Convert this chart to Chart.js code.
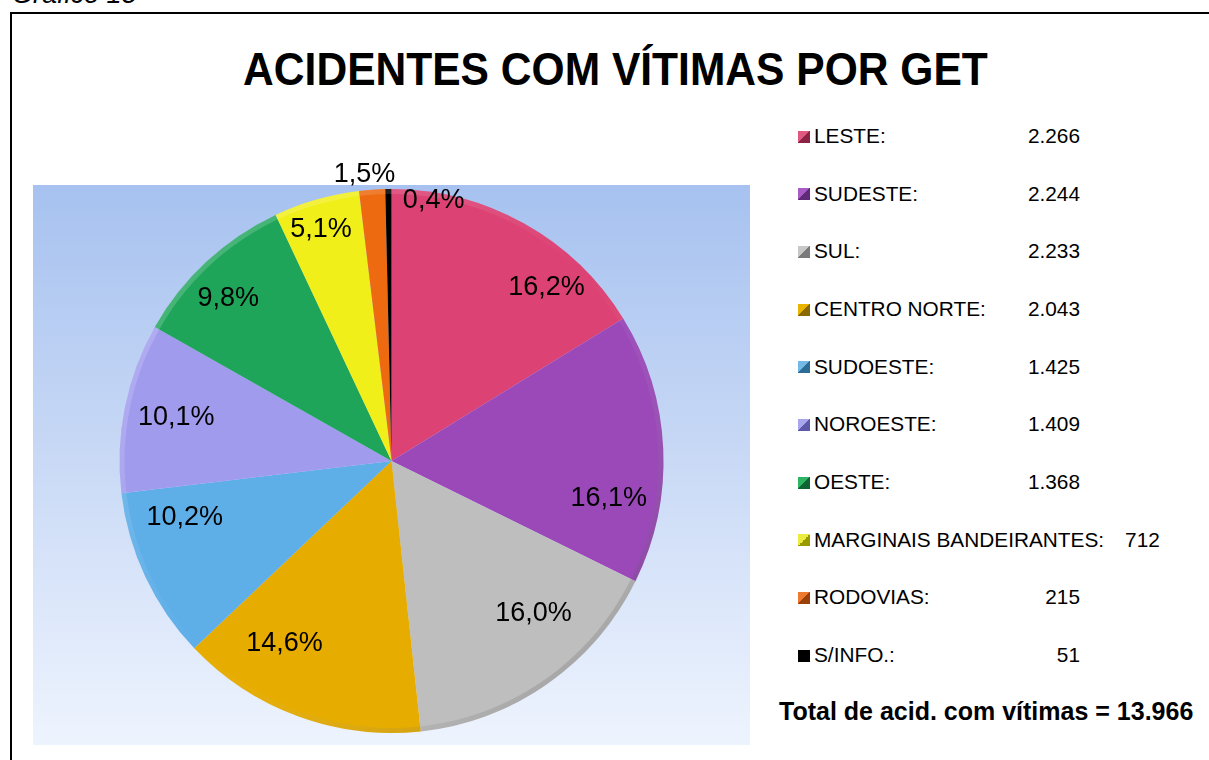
<!DOCTYPE html>
<html>
<head>
<meta charset="utf-8">
<script src="https://cdn.jsdelivr.net/npm/chart.js@4"></script>
<style>
  html, body { margin:0; padding:0; background:#fff; overflow:hidden; width:1209px; height:760px; }
  body { position:relative; font-family:"Liberation Sans", Arial, sans-serif; color:#000; }
  .abs { position:absolute; white-space:nowrap; }
  #frame { position:absolute; left:10px; top:12px; width:1400px; height:900px; border:2px solid #000; box-sizing:border-box; }
  #plot { position:absolute; left:33px; top:150px; width:717px; height:595px; }
  #title { left:0; width:1231px; text-align:center; top:46px; font-size:46px; line-height:46px; font-weight:bold;
           transform:scaleX(0.925); transform-origin:615px 0; }
  .mk { position:absolute; width:12px; height:12px; }
</style>
</head>
<body>
<div class="abs" style="left:12px; top:-19px; font-size:27px; line-height:27px; font-style:italic;">Gráfico 15</div>
<div id="frame"></div>
<div id="plot"><canvas id="c" width="717" height="595"></canvas></div>
<div id="title" class="abs">ACIDENTES COM VÍTIMAS POR GET</div>
<div id="legend"></div>
<div id="total" class="abs" style="left:779px; top:699px; font-size:25px; line-height:25px; font-weight:bold;"></div>
<script>
// ---- data ----
const categories = ['LESTE','SUDESTE','SUL','CENTRO NORTE','SUDOESTE','NOROESTE','OESTE','MARGINAIS BANDEIRANTES','RODOVIAS','S/INFO.'];
const values = [2266, 2244, 2233, 2043, 1425, 1409, 1368, 712, 215, 51];
const totalLabel = 'Total de acid. com vítimas';

// ---- styles ----
const sliceColors = ['#dc4273','#9b49b9','#bebebe','#e6ac00','#5eaee8','#a19bee','#1fa55a','#f1ef1a','#ee6a10','#000000'];
const markerLight = ['#e0587f','#a85bc4','#c8c8c8','#e8b400','#74b8e6','#aaa6ee','#2fb464','#eceb40','#ee7a30','#000000'];
const markerDark  = ['#8c2344','#5f2a78','#7a7a7a','#8a6a00','#2e6c98','#5e58a8','#0f6434','#9a9a00','#9a4008','#000000'];
// label placement: angle nudge (deg) from slice bisector, radial factor
const labelNudge  = [12.5, 12.3, -8.1, 10.3, 10.2, 0.4, -2.2, -0.8, -1.3, 9.8];
const labelRadius = [0.857, 0.81, 0.765, 0.776, 0.787, 0.808, 0.848, 0.894, 1.06, 0.975];
const plotBgTop = 35; // canvas y where the shaded plot area begins

const total = values.reduce((a,b)=>a+b,0);
function fmt(n){ return String(n).replace(/\B(?=(\d{3})+(?!\d))/g,'.'); }
function pct(v){ return (v/total*100).toFixed(1).replace('.',',') + '%'; }

const bgPlugin = {
  id:'plotBg',
  beforeDraw(chart){
    const ctx = chart.ctx, w = chart.width, h = chart.height;
    const g = ctx.createLinearGradient(0, plotBgTop, 0, h);
    g.addColorStop(0, '#a7c2f0');
    g.addColorStop(0.45, '#c6d7f5');
    g.addColorStop(1, '#eef4fe');
    ctx.save();
    ctx.fillStyle = g;
    ctx.fillRect(0, plotBgTop, w, h - plotBgTop);
    ctx.restore();
  }
};

const rimPlugin = {
  id:'rim',
  afterDatasetsDraw(chart){
    const meta = chart.getDatasetMeta(0);
    const a = meta.data[0];
    if (!a) return;
    const p = a.getProps(['x','y','outerRadius'], true);
    const ctx = chart.ctx, R = p.outerRadius, t = 5;
    const g = ctx.createLinearGradient(p.x - R, p.y - R, p.x + R, p.y + R);
    g.addColorStop(0, 'rgba(255,255,255,0.25)');
    g.addColorStop(0.5, 'rgba(255,255,255,0)');
    g.addColorStop(1, 'rgba(0,0,0,0.28)');
    ctx.save();
    ctx.beginPath();
    ctx.arc(p.x, p.y, R, 0, Math.PI*2);
    ctx.arc(p.x, p.y, R - t, 0, Math.PI*2, true);
    ctx.fillStyle = g;
    ctx.fill();
    ctx.restore();
  }
};

const labelPlugin = {
  id:'pctLabels',
  afterDatasetsDraw(chart){
    const ctx = chart.ctx;
    const meta = chart.getDatasetMeta(0);
    ctx.save();
    ctx.font = '27px "Liberation Sans", Arial, sans-serif';
    ctx.fillStyle = '#000';
    ctx.textAlign = 'center';
    ctx.textBaseline = 'middle';
    meta.data.forEach((arc, i) => {
      const p = arc.getProps(['x','y','startAngle','endAngle','outerRadius'], true);
      const mid = (p.startAngle + p.endAngle)/2 + labelNudge[i]*Math.PI/180;
      const r = p.outerRadius * labelRadius[i];
      ctx.fillText(pct(values[i]), p.x + Math.cos(mid)*r, p.y + Math.sin(mid)*r + 1);
    });
    ctx.restore();
  }
};

new Chart(document.getElementById('c'), {
  type:'pie',
  data:{ labels:categories, datasets:[{ data:values, backgroundColor:sliceColors, borderWidth:0 }] },
  options:{
    responsive:false,
    animation:false,
    layout:{ padding:{ top:39, bottom:12, left:0, right:0 } },
    plugins:{ legend:{ display:false }, tooltip:{ enabled:false }, title:{ display:false } }
  },
  plugins:[bgPlugin, rimPlugin, labelPlugin]
});

// ---- legend ----
const legend = document.getElementById('legend');
const rowY0 = 136, rowStep = 57.67, lineH = 24, valueRight = 1080, legendFont = 20.8;
categories.forEach((name, i) => {
  const cy = rowY0 + i*rowStep;
  const mk = document.createElement('div');
  mk.className = 'mk';
  mk.style.left = '798px';
  mk.style.top = (cy - 5.5) + 'px';
  mk.style.background = 'linear-gradient(to bottom right, ' + markerLight[i] + ' 50%, ' + markerDark[i] + ' 50%)';
  legend.appendChild(mk);
  const lab = document.createElement('div');
  lab.className = 'abs';
  lab.style.cssText = 'left:814px; top:' + (cy - lineH/2) + 'px; font-size:' + legendFont + 'px; line-height:' + lineH + 'px;';
  lab.textContent = name + ':';
  legend.appendChild(lab);
  const val = document.createElement('div');
  val.className = 'abs';
  val.style.cssText = 'top:' + (cy - lineH/2) + 'px; font-size:' + legendFont + 'px; line-height:' + lineH + 'px;';
  val.textContent = fmt(values[i]);
  legend.appendChild(val);
  const lw = lab.getBoundingClientRect().width;
  const vw = val.getBoundingClientRect().width;
  const left = Math.max(814 + lw + 21, valueRight - vw);
  val.style.left = left + 'px';
});
document.getElementById('total').textContent = totalLabel + ' = ' + fmt(total);
</script>
</body>
</html>
